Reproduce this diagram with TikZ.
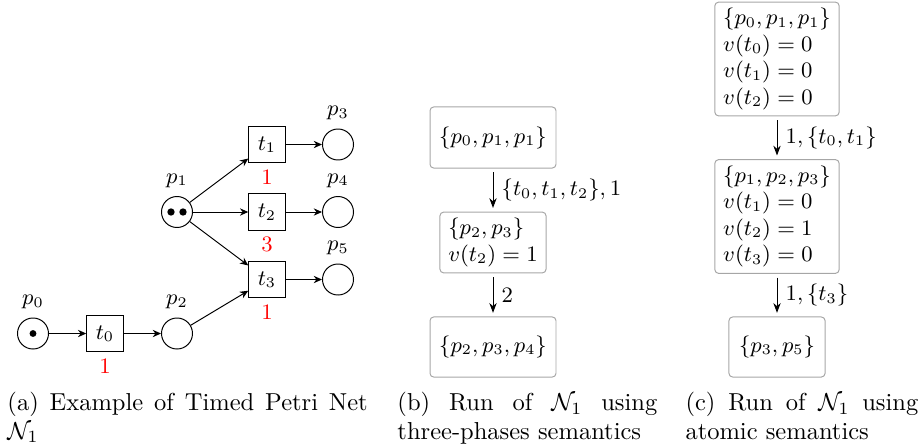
\documentclass[tikz,border=0pt]{standalone}
\usetikzlibrary{arrows.meta}
\begin{document}
\begin{tikzpicture}[x=0.408pt,y=-0.408pt, font=\fontsize{9}{10.8}\selectfont,
 place/.style={circle,draw,line width=0.4pt,minimum size=12.65pt,inner sep=0pt},
 trans/.style={rectangle,draw,line width=0.4pt,minimum width=14.9pt,minimum height=15pt,inner sep=0pt},
 arc/.style={line width=0.4pt,-{Stealth[length=3.4pt,width=3pt]}},
 delay/.style={red,label distance=-1pt},
 state/.style={draw=black!35,rounded corners=1.5pt,inner xsep=3.4pt,inner ysep=2.5pt,align=left},
 run/.style={line width=0.4pt,-{Stealth[length=4pt,width=3pt]},shorten <=1.5pt,shorten >=1.5pt},
 captext/.style={anchor=north west,inner sep=0pt,align=justify,font=\fontsize{10}{11.6}\selectfont}]
\useasboundingbox (0,0) rectangle (920,446);

% (a) Petri net
\node[place,label=above:$p_0$] (p0) at (33,333.5) {};
\fill (p0.center) circle (1.4pt);
\node[trans,label={[delay]below:1}] (t0) at (105,333.5) {$t_0$};
\node[place,label=above:$p_2$] (p2) at (177,333.5) {};
\node[place,label=above:$p_1$] (p1) at (177,212) {};
\fill ([xshift=-2.45pt]p1.center) circle (1.5pt);
\fill ([xshift=2.45pt]p1.center) circle (1.5pt);
\node[trans,label={[delay]below:1}] (t1) at (267,144.5) {$t_1$};
\node[trans,label={[delay]below:3}] (t2) at (267,212) {$t_2$};
\node[trans,label={[delay]below:1}] (t3) at (267,279.5) {$t_3$};
\node[place,label=above:$p_3$] (p3) at (338,144.5) {};
\node[place,label=above:$p_4$] (p4) at (338,212) {};
\node[place,label=above:$p_5$] (p5) at (338,279.5) {};
\draw[arc] (p0) -- (t0);
\draw[arc] (t0) -- (p2);
\draw[arc] (p2) -- (t3);
\draw[arc] (p1) -- (t1);
\draw[arc] (p1) -- (t2);
\draw[arc] (p1) -- (t3);
\draw[arc] (t1) -- (p3);
\draw[arc] (t2) -- (p4);
\draw[arc] (t3) -- (p5);

% (b) three-phases run
\node[state,align=center,minimum width=51.4pt,minimum height=24.9pt] (b1) at (493,137.5) {$\{p_0,p_1,p_1\}$};
\node[state] (b2) at (493,242.5) {$\{p_2,p_3\}$\\$v(t_2)=1$};
\node[state,align=center,minimum width=51.4pt,minimum height=24.5pt] (b3) at (493,347) {$\{p_2,p_3,p_4\}$};
\draw[run] (b1) -- (b2) node[midway,right] {$\{t_0,t_1,t_2\},1$};
\draw[run] (b2) -- (b3) node[midway,right] {$2$};

% (c) atomic run
\node[state] (c1) at (777,59) {$\{p_0,p_1,p_1\}$\\$v(t_0)=0$\\$v(t_1)=0$\\$v(t_2)=0$};
\node[state] (c2) at (777,216.5) {$\{p_1,p_2,p_3\}$\\$v(t_1)=0$\\$v(t_2)=1$\\$v(t_3)=0$};
\node[state,align=center,minimum width=39.2pt,minimum height=24.5pt] (c3) at (777,347) {$\{p_3,p_5\}$};
\draw[run] (c1) -- (c2) node[midway,right] {$1,\{t_0,t_1\}$};
\draw[run] (c2) -- (c3) node[midway,right] {$1,\{t_3\}$};

% captions
\node[captext,text width=147pt] (capa) at (7,392) {(a) Example of Timed Petri Net $\mathcal{N}_1$};
\node[captext,text width=106pt] (capb) at (397,392) {(b) Run of $\mathcal{N}_1$ using \mbox{three-phases} semantics};
\node[captext,text width=95pt] (capc) at (685,392) {(c) Run of $\mathcal{N}_1$ using atomic semantics};
\end{tikzpicture}
\end{document}
